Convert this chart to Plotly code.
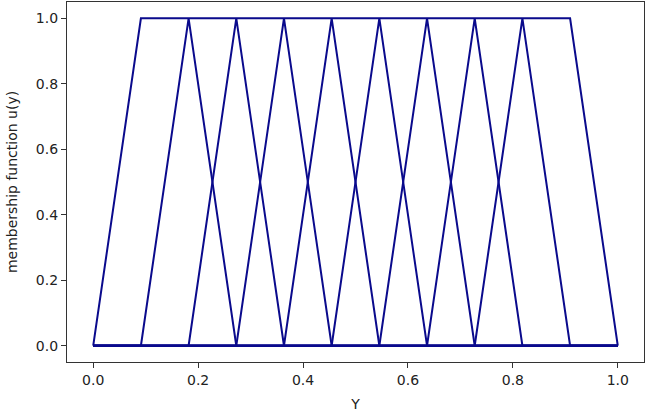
import numpy as np
import plotly.graph_objects as go

# grid of the universe Y (12 points, step 1/11)
y_grid = [0, 1/11, 2/11, 3/11, 4/11, 5/11, 6/11, 7/11, 8/11, 9/11, 10/11, 1]

# trapezoid covering the whole universe
trap_u = [0, 1, 1, 1, 1, 1, 1, 1, 1, 1, 1, 0]

# triangular sets peaking at 2/11 ... 9/11
tri_u = [
    [0, 0, 1, 0, 0, 0, 0, 0, 0, 0, 0, 0],
    [0, 0, 0, 1, 0, 0, 0, 0, 0, 0, 0, 0],
    [0, 0, 0, 0, 1, 0, 0, 0, 0, 0, 0, 0],
    [0, 0, 0, 0, 0, 1, 0, 0, 0, 0, 0, 0],
    [0, 0, 0, 0, 0, 0, 1, 0, 0, 0, 0, 0],
    [0, 0, 0, 0, 0, 0, 0, 1, 0, 0, 0, 0],
    [0, 0, 0, 0, 0, 0, 0, 0, 1, 0, 0, 0],
    [0, 0, 0, 0, 0, 0, 0, 0, 0, 1, 0, 0],
]

col = "#0a0a8c"
font = dict(family="DejaVu Sans", size=14, color="#222")

fig = go.Figure()
fig.add_trace(go.Scatter(x=y_grid, y=trap_u, mode="lines", line=dict(color=col, width=2)))
for u in tri_u:
    fig.add_trace(go.Scatter(x=y_grid, y=u, mode="lines", line=dict(color=col, width=2)))

axis_style = dict(
    showgrid=False, zeroline=False, showline=True, linecolor="#333", linewidth=1.2,
    mirror=True, ticks="outside", ticklen=5, tickcolor="#333", automargin=False,
    tickfont=font,
)
fig.update_xaxes(range=[-0.05, 1.05], tickvals=[0, 0.2, 0.4, 0.6, 0.8, 1.0],
                 ticktext=["0.0", "0.2", "0.4", "0.6", "0.8", "1.0"],
                 title=dict(text="Y", font=font, standoff=12),
                 **axis_style)
fig.update_yaxes(range=[-0.05, 1.05], tickvals=[0, 0.2, 0.4, 0.6, 0.8, 1.0],
                 ticktext=["0.0", "0.2", "0.4", "0.6", "0.8", "1.0"],
                 title=dict(text="membership function u(y)", font=font, standoff=14),
                 **axis_style)
fig.update_layout(width=646, height=413, showlegend=False,
                  margin=dict(l=67, r=2, t=2, b=51),
                  plot_bgcolor="white", paper_bgcolor="white")
# drop the page's default body margin so the figure sits at the window corner
fig.write_html("out.html", config={"displayModeBar": False},
               post_script="document.body.style.margin='0';")
